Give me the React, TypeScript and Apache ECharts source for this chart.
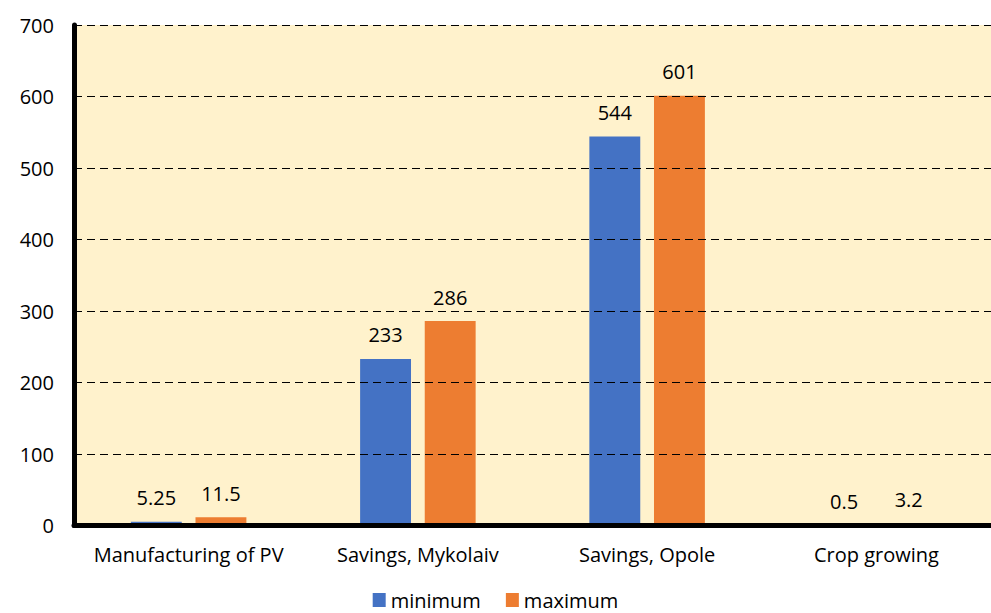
import React, { useEffect, useRef } from "react";
import * as echarts from "echarts";

const categories = ["Manufacturing of PV", "Savings, Mykolaiv", "Savings, Opole", "Crop growing"];
const minimumValues = [5.25, 233, 544, 0.5];
const maximumValues = [11.5, 286, 601, 3.2];
const yTicks = { min: 0, max: 700, interval: 100 };

const FONT = "Open Sans";

export default function App() {
  const ref = useRef<HTMLDivElement>(null);
  useEffect(() => {
    document.body.style.margin = "0";
    if (!ref.current) return;
    const chart = echarts.init(ref.current, null, { renderer: "svg" });
    const labelStyle = {
      show: true,
      position: "top" as const,
      distance: 14,
      color: "#000",
      fontFamily: FONT,
      fontSize: 20,
    };
    chart.setOption({
      animation: false,
      backgroundColor: "#ffffff",
      textStyle: { fontFamily: FONT },
      grid: { left: 74, right: 0, top: 25, bottom: 87.5, containLabel: false, show: true, backgroundColor: "#FFF2CC", borderWidth: 0 },
      legend: {
        bottom: 3,
        padding: 0,
        left: "center",
        itemWidth: 13,
        itemHeight: 14,
        itemGap: 25,
        icon: "rect",
        textStyle: { fontFamily: FONT, fontSize: 20, color: "#000" },
        data: ["minimum", "maximum"],
      },
      xAxis: {
        type: "category",
        data: categories,
        z: 10,
        axisLine: { show: true, lineStyle: { color: "#000", width: 5 } },
        axisTick: { show: false },
        axisLabel: { color: "#000", fontFamily: FONT, fontSize: 20, margin: 19, interval: 0 },
      },
      yAxis: {
        type: "value",
        min: yTicks.min,
        max: yTicks.max,
        interval: yTicks.interval,
        z: 10,
        axisLine: { show: true, lineStyle: { color: "#000", width: 5 } },
        axisTick: { show: false },
        axisLabel: { color: "#000", fontFamily: FONT, fontSize: 20, margin: 20 },
        splitLine: { show: true, lineStyle: { color: "#000", type: [8, 5], width: 1 } },
      },
      series: [
        {
          name: "minimum",
          type: "bar",
          data: minimumValues,
          barWidth: "22.2%",
          barGap: "27%",
          itemStyle: { color: "#4472C4" },
          label: labelStyle,
        },
        {
          name: "maximum",
          type: "bar",
          data: maximumValues,
          barWidth: "22.2%",
          itemStyle: { color: "#ED7D31" },
          label: labelStyle,
        },
      ],
    });
    return () => chart.dispose();
  }, []);
  return <div ref={ref} style={{ width: 991, height: 613 }} />;
}
